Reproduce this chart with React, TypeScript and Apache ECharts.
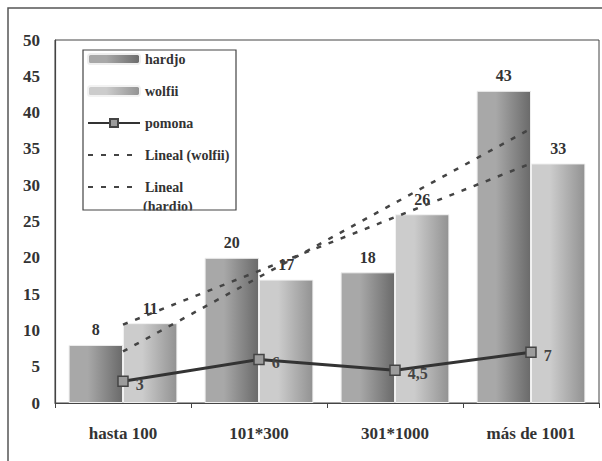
import React, { useEffect, useRef } from "react";
import * as echarts from "echarts";

const categories = ["hasta 100", "101*300", "301*1000", "más de 1001"];
const hardjo = [8, 20, 18, 43];
const wolfii = [11, 17, 26, 33];
const pomona = [3, 6, 4.5, 7];
const trendWolfii = [10.8, null, null, 33];
const trendHardjo = [7.1, null, null, 37.8];
const yTicks = { min: 0, max: 50, interval: 5 };

const FONT = "Liberation Serif";

export default function App() {
  const ref = useRef<HTMLDivElement>(null);
  useEffect(() => {
    if (!ref.current) return;
    const chart = echarts.init(ref.current, null, { renderer: "svg" });
    const grad = (a: string, b: string) =>
      new echarts.graphic.LinearGradient(0, 0, 1, 0, [
        { offset: 0, color: a },
        { offset: 0.35, color: a },
        { offset: 1, color: b },
      ]);
    const barLabel = {
      show: true,
      position: "top",
      distance: 7,
      fontFamily: FONT,
      fontWeight: "bold",
      fontSize: 16,
      color: "#333",
    };
    chart.setOption({
      animation: false,
      backgroundColor: "#fff",
      textStyle: { fontFamily: FONT },
      grid: {
        left: 55,
        top: 40,
        right: 3,
        bottom: 58,
        show: true,
        borderColor: "#444",
        borderWidth: 1,
      },
      legend: {
        orient: "vertical",
        left: 87,
        top: 52,
        padding: 0,
        itemWidth: 52,
        itemHeight: 10,
        itemGap: 18,
        textStyle: {
          fontFamily: FONT,
          fontWeight: "bold",
          fontSize: 14,
          lineHeight: 14,
          color: "#333",
        },
        formatter: (n: string) => (n === "Lineal (hardjo)" ? "Lineal" : n),
        data: [
          "hardjo",
          "wolfii",
          "pomona",
          { name: "Lineal (wolfii)", itemStyle: { opacity: 0 } },
          { name: "Lineal (hardjo)", itemStyle: { opacity: 0 } },
        ],
      },
      graphic: [
        {
          type: "rect",
          shape: { x: 8, y: 8, width: 640, height: 480 },
          style: { fill: "none", stroke: "#555", lineWidth: 1.5 },
          silent: true,
        },
        {
          type: "text",
          x: 143,
          y: 199,
          style: {
            text: "(hardjo)",
            fontFamily: FONT,
            fontWeight: "bold",
            fontSize: 14,
            fill: "#333",
          },
          z: 10,
        },
        {
          type: "rect",
          shape: { x: 84, y: 210.5, width: 152, height: 10 },
          style: { fill: "#fff" },
          z: 11,
        },
        {
          type: "rect",
          shape: { x: 83, y: 50, width: 153, height: 160 },
          style: { fill: "none", stroke: "#444", lineWidth: 1.2 },
          z: 12,
        },
      ],
      xAxis: {
        type: "category",
        data: categories,
        boundaryGap: true,
        axisLine: { lineStyle: { color: "#444", width: 1.2 } },
        axisTick: { show: true, length: 5, lineStyle: { color: "#444" } },
        axisLabel: {
          fontFamily: FONT,
          fontWeight: "bold",
          fontSize: 17,
          color: "#333",
          margin: 22,
        },
      },
      yAxis: {
        type: "value",
        min: yTicks.min,
        max: yTicks.max,
        interval: yTicks.interval,
        splitLine: { show: false },
        axisLine: { show: true, lineStyle: { color: "#444", width: 1.2 } },
        axisTick: { show: false },
        axisLabel: {
          fontFamily: FONT,
          fontWeight: "bold",
          fontSize: 17,
          color: "#333",
          margin: 15,
        },
      },
      series: [
        {
          name: "hardjo",
          type: "bar",
          data: hardjo,
          barGap: "0%",
          barCategoryGap: "20%",
          itemStyle: {
            color: grad("#a8a8a8", "#6a6a6a"),
            borderColor: "#eeeeee",
            borderWidth: 1,
          },
          label: barLabel,
        },
        {
          name: "wolfii",
          type: "bar",
          data: wolfii,
          itemStyle: {
            color: grad("#cccccc", "#929292"),
            borderColor: "#f2f2f2",
            borderWidth: 1,
          },
          label: barLabel,
        },
        {
          name: "pomona",
          type: "line",
          data: pomona,
          symbol: "rect",
          symbolSize: 10,
          z: 5,
          lineStyle: { color: "#333", width: 3 },
          itemStyle: { color: "#9c9c9c", borderColor: "#444", borderWidth: 1.5 },
          label: {
            show: true,
            position: "right",
            distance: 7,
            offset: [0, 3],
            fontFamily: FONT,
            fontWeight: "bold",
            fontSize: 16,
            color: "#444",
            formatter: (p: any) => String(p.value).replace(".", ","),
          },
        },
        {
          name: "Lineal (wolfii)",
          type: "line",
          data: trendWolfii,
          connectNulls: true,
          symbol: "none",
          z: 4,
          lineStyle: { color: "#444", width: 2.5, type: [5, 8] },
          itemStyle: { color: "#444" },
        },
        {
          name: "Lineal (hardjo)",
          type: "line",
          data: trendHardjo,
          connectNulls: true,
          symbol: "none",
          z: 4,
          lineStyle: { color: "#444", width: 2.5, type: [5, 8] },
          itemStyle: { color: "#444" },
        },
      ],
    });
    return () => chart.dispose();
  }, []);
  return (
    <div
      ref={ref}
      style={{ position: "fixed", left: 0, top: 0, width: 602, height: 461, background: "#fff" }}
    />
  );
}
